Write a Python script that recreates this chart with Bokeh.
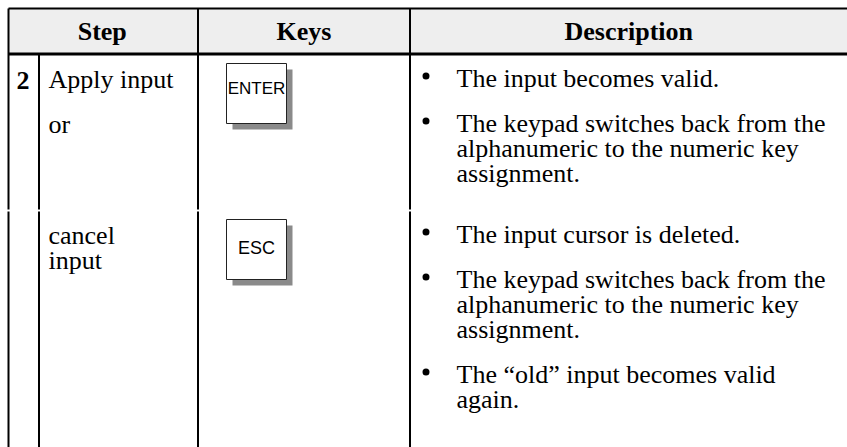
from bokeh.plotting import figure
from bokeh.models import Range1d
from bokeh.core.properties import value
from bokeh.embed import file_html
from bokeh.resources import INLINE

# ---------------- data ----------------
headers = ["Step", "Keys", "Description"]
step_number = "2"
step_texts = [
    [["Apply input"], ["or"]],
    [["cancel", "input"]],
]
key_labels = ["ENTER", "ESC"]
descriptions = [
    [["The input becomes valid."],
     ["The keypad switches back from the",
      "alphanumeric to the numeric key",
      "assignment."]],
    [["The input cursor is deleted."],
     ["The keypad switches back from the",
      "alphanumeric to the numeric key",
      "assignment."],
     ["The \u201cold\u201d input becomes valid",
      "again."]],
]

# ---------------- layout / style ----------------
W, H = 847, 447
col_edges = [8, 38.5, 197.5, 409.5, 847]
table_top = 8
header_bottom = 53.5
header_base = 38
row_tops = [55, 211]
row_gap = (209, 211)
first_base = 30
line_h = 25
para_gap = 45
text_dy = -7          # compensation for the renderer's baseline placement
serif = value("Liberation Serif")
sans = value("Liberation Sans")
body_size = "26px"
key_box = 60
key_shadow = 6
key_font_sizes = ["17px", "18px"]
key_base_dy = [32, 35]

p = figure(width=W, height=H, output_backend="svg", toolbar_location=None,
           x_range=Range1d(0, W), y_range=Range1d(H, 0),
           min_border=0, outline_line_color=None, background_fill_color="white",
           border_fill_color="white")
p.axis.visible = False
p.grid.visible = False

# header background
p.quad(left=[col_edges[0]], right=[col_edges[-1]], top=[table_top], bottom=[header_bottom],
       fill_color="#eeeeee", line_color=None)

# header texts
hx = [(col_edges[0] + col_edges[2]) / 2 - 1, (col_edges[2] + col_edges[3]) / 2,
      (col_edges[3] + col_edges[4]) / 2]
p.text(x=hx, y=[header_base + text_dy] * 3, text=headers, text_font=serif,
       text_font_size=body_size, text_font_style="bold", text_align="center",
       text_baseline="alphabetic", text_color="black")

# horizontal rules
p.segment(x0=[col_edges[0]], x1=[col_edges[-1]], y0=[table_top], y1=[table_top],
          line_color="black", line_width=2)
p.segment(x0=[col_edges[0]], x1=[col_edges[-1]], y0=[header_bottom], y1=[header_bottom],
          line_color="black", line_width=3)

# vertical rules (with a small gap at the row boundary)
bottom = H + 10
vx0, vy0, vy1 = [], [], []
for i, xe in enumerate(col_edges[:-1]):
    start = header_bottom if i == 1 else table_top
    vx0 += [xe, xe]
    vy0 += [start, row_gap[1]]
    vy1 += [row_gap[0], bottom]
p.segment(x0=vx0, x1=vx0, y0=vy0, y1=vy1, line_color="black", line_width=2)


def layout(paras, top):
    out = []
    y = top + first_base
    for pi, para in enumerate(paras):
        if pi > 0:
            y += para_gap - line_h
        for li, line in enumerate(para):
            out.append((line, y, li == 0))
            y += line_h
    return out


# step number
p.text(x=[col_edges[0] + 8], y=[row_tops[0] + first_base + 2 + text_dy], text=[step_number],
       text_font=serif, text_font_size=body_size, text_font_style="bold",
       text_baseline="alphabetic", text_color="black")

# step texts
sx, sy, st = [], [], []
for r, paras in enumerate(step_texts):
    for line, y, _ in layout(paras, row_tops[r]):
        sx.append(col_edges[1] + 9.5)
        sy.append(y + 1 + text_dy)
        st.append(line)
p.text(x=sx, y=sy, text=st, text_font=serif, text_font_size=body_size,
       text_baseline="alphabetic", text_color="black")

# keys
for r, lab in enumerate(key_labels):
    left = col_edges[2] + 28.5
    top = row_tops[r] + 8
    p.quad(left=[left + key_shadow], right=[left + key_box + key_shadow],
           top=[top + key_shadow], bottom=[top + key_box + key_shadow],
           fill_color="#8a8a8a", line_color=None)
    p.quad(left=[left], right=[left + key_box], top=[top], bottom=[top + key_box],
           fill_color="white", line_color="#222222", line_width=1)
    p.text(x=[left + key_box / 2], y=[top + key_base_dy[r] + text_dy], text=[lab],
           text_font=sans, text_font_size=key_font_sizes[r], text_align="center",
           text_baseline="alphabetic", text_color="black")

# descriptions
dx, dy, dt, bx, by = [], [], [], [], []
for r, paras in enumerate(descriptions):
    for line, y, first in layout(paras, row_tops[r]):
        dx.append(col_edges[3] + 46.5)
        dy.append(y + text_dy)
        dt.append(line)
        if first:
            bx.append(col_edges[3] + 16)
            by.append(y - 9.5)
p.text(x=dx, y=dy, text=dt, text_font=serif, text_font_size=body_size,
       text_baseline="alphabetic", text_color="black")
p.scatter(x=bx, y=by, marker="circle", size=7, fill_color="black", line_color=None)

open("out.html", "w").write(file_html(p, INLINE))
